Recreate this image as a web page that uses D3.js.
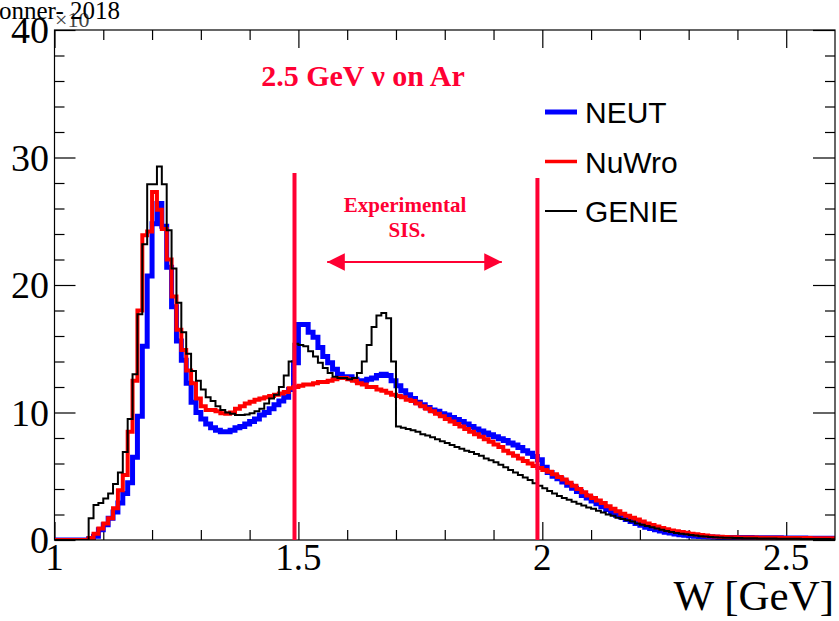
<!DOCTYPE html>
<html>
<head>
<meta charset="utf-8">
<script src="https://cdn.jsdelivr.net/npm/d3@7"></script>
<style>
  body { margin: 0; background: #fff; }
  svg { display: block; }
</style>
</head>
<body>
<div id="chart"></div>
<script>
// histogram binning: W from 1.0 GeV in 0.01 GeV bins
const binStart = 1.0;
const binWidth = 0.01;

const seriesNames = ['NEUT', 'NuWro', 'GENIE'];

const neut = [
  0, 0, 0, 0, 0, 0, 0, 0.1, 0.3, 0.8,
  1.2, 1.7, 2.2, 2.9, 3.65, 4.5, 6.5, 9.7, 15.2, 20.7,
  24.8, 26.4, 24.6, 21.4, 18.3, 15.6, 14.1, 12.3, 10.8, 10.0,
  9.5, 9.1, 8.8, 8.6, 8.5, 8.5, 8.6, 8.8, 8.9, 9.1,
  9.3, 9.5, 9.8, 10.0, 10.3, 10.6, 10.9, 11.2, 11.8, 13.9,
  16.9, 16.9, 16.3, 15.9, 15.1, 14.4, 13.9, 13.4, 13.0, 12.8,
  12.8, 12.6, 12.5, 12.5, 12.6, 12.7, 12.9, 13.0, 12.9, 12.5,
  12.1, 11.7, 11.4, 11.1, 10.8, 10.6, 10.4, 10.2, 10.1, 9.9,
  9.8, 9.6, 9.45, 9.3, 9.1, 8.9, 8.7, 8.55, 8.4, 8.25,
  8.1, 7.95, 7.8, 7.6, 7.45, 7.25, 7.0, 6.8, 6.55, 6.3,
  5.7, 5.3, 5.0, 4.8, 4.55, 4.3, 4.05, 3.8, 3.5, 3.3,
  3.05, 2.85, 2.6, 2.4, 2.15, 1.95, 1.8, 1.6, 1.45, 1.3,
  1.15, 1.0, 0.9, 0.8, 0.7, 0.6, 0.55, 0.48, 0.42, 0.38,
  0.34, 0.3, 0.27, 0.25, 0.23, 0.21, 0.2, 0.2, 0.2, 0.2,
  0.2, 0.19, 0.19, 0.18, 0.18, 0.18, 0.17, 0.1, 0.17, 0.16,
  0.16, 0.15, 0.15, 0.15, 0.14, 0.14, 0.14, 0.13, 0.13, 0.13
];

const nuwro = [
  0, 0, 0, 0, 0, 0, 0, 0.15, 0.5, 0.9,
  1.3, 1.7, 2.5, 3.9, 5.1, 8.5, 12.5, 18.0, 23.9, 24.2,
  27.3, 25.9, 24.4, 22.0, 19.1, 16.5, 14.9, 13.3, 12.3, 11.1,
  10.5, 10.2, 10.2, 10.1, 9.95, 9.9, 10.0, 10.3, 10.5, 10.7,
  10.85, 11.0, 11.1, 11.2, 11.3, 11.4, 11.5, 11.6, 11.9, 12.0,
  12.1, 12.2, 12.2, 12.3, 12.4, 12.4, 12.5, 12.6, 12.7, 12.7,
  12.6, 12.5, 12.3, 12.2, 12.0, 12.0, 11.8, 11.7, 11.55, 11.4,
  11.3, 11.2, 11.0, 10.9, 10.7, 10.5, 10.3, 10.1, 9.9, 9.7,
  9.5, 9.3, 9.1, 8.9, 8.7, 8.5, 8.3, 8.1, 7.9, 7.7,
  7.5, 7.3, 7.0, 6.8, 6.6, 6.4, 6.2, 6.0, 5.8, 5.65,
  5.5, 5.35, 5.15, 4.95, 4.75, 4.5, 4.25, 4.0, 3.75, 3.5,
  3.3, 3.1, 2.9, 2.65, 2.45, 2.25, 2.05, 1.9, 1.75, 1.6,
  1.45, 1.3, 1.17, 1.05, 0.95, 0.85, 0.75, 0.68, 0.62, 0.56,
  0.5, 0.45, 0.4, 0.35, 0.3, 0.27, 0.25, 0.23, 0.22, 0.21,
  0.2, 0.2, 0.19, 0.19, 0.18, 0.18, 0.17, 0.17, 0.17, 0.16,
  0.16, 0.16, 0.15, 0.15, 0.15, 0.14, 0.14, 0.14, 0.13, 0.13
];

const genie = [
  0, 0, 0, 0, 0, 0, 0, 1.7, 2.75, 2.9,
  3.25, 3.65, 4.4, 5.3, 6.9, 9.5, 13.0, 17.7, 23.2, 27.9,
  27.9, 29.3, 27.9, 24.3, 21.3, 18.6, 16.3, 14.6, 13.25, 12.5,
  11.8, 11.2, 10.9, 10.5, 10.2, 10.0, 9.9, 9.8, 9.8, 9.85,
  9.95, 10.1, 10.3, 10.7, 11.1, 11.4, 12.0, 12.9, 14.0, 15.4,
  15.3, 15.2, 14.8, 14.4, 13.9, 13.5, 13.1, 12.8, 12.7, 12.7,
  12.6, 12.7, 13.1, 14.0, 15.3, 16.7, 17.6, 17.8, 17.4, 14.0,
  8.9, 8.8, 8.7, 8.6, 8.5, 8.3, 8.2, 8.05, 7.9, 7.75,
  7.6, 7.45, 7.3, 7.15, 7.0, 6.9, 6.75, 6.6, 6.4, 6.25,
  6.1, 5.9, 5.7, 5.5, 5.3, 5.1, 4.9, 4.7, 4.45, 4.25,
  4.05, 3.85, 3.65, 3.45, 3.3, 3.15, 3.0, 2.85, 2.7, 2.55,
  2.45, 2.3, 2.15, 2.0, 1.9, 1.75, 1.65, 1.55, 1.45, 1.3,
  1.2, 1.1, 1.0, 0.9, 0.8, 0.7, 0.62, 0.55, 0.5, 0.45,
  0.4, 0.35, 0.3, 0.27, 0.24, 0.22, 0.2, 0.18, 0.17, 0.16,
  0.15, 0.14, 0.13, 0.13, 0.12, 0.12, 0.11, 0.11, 0.1, 0.1,
  0.1, 0.09, 0.09, 0.08, 0.08, 0.08, 0.07, 0.07, 0.07, 0.06
];

const xMajor = [1, 1.5, 2, 2.5];
const xMajorLabels = ['1', '1.5', '2', '2.5'];
const xMinor = d3.range(11, 26).map(d => d / 10).filter(d => !xMajor.includes(d));
const yMajor = [0, 10, 20, 30, 40];
const yMinor = d3.range(2, 40, 2).filter(d => d % 10 !== 0);

// SIS region markers
const sisLines = [1.492, 1.99];

(function() {
  const width = 839;
  const height = 621;
  const left = 54.5, right = 835, top = 30, bottom = 540;
  const annRed = '#ff0033';

  const svg = d3.select('#chart')
    .append('svg')
    .attr('width', width)
    .attr('height', height);

  const x = d3.scaleLinear().domain([1, 2.6]).range([left, right]);
  const y = d3.scaleLinear().domain([0, 40]).range([bottom, top]);

  svg.append('clipPath').attr('id', 'frame')
    .append('rect')
    .attr('x', left).attr('y', top - 2)
    .attr('width', right - left).attr('height', bottom - top + 2);

  // ticks (pointing inward, ROOT style)
  function ticks(axis, vals, size, transform) {
    const g = svg.append('g')
      .attr('transform', transform)
      .call(axis.tickValues(vals).tickSize(-size).tickFormat(''));
    g.select('.domain').remove();
    g.selectAll('line').attr('stroke', '#000').attr('stroke-width', 1.2);
  }
  ticks(d3.axisBottom(x), xMinor, 10, `translate(0,${bottom})`);
  ticks(d3.axisBottom(x), xMajor, 18, `translate(0,${bottom})`);
  ticks(d3.axisTop(x), xMinor, 10, `translate(0,${top})`);
  ticks(d3.axisTop(x), xMajor, 18, `translate(0,${top})`);
  ticks(d3.axisLeft(y), yMinor, 10, `translate(${left},0)`);
  ticks(d3.axisLeft(y), yMajor, 21, `translate(${left},0)`);
  ticks(d3.axisRight(y), yMinor, 10, `translate(${right},0)`);
  ticks(d3.axisRight(y), yMajor, 22, `translate(${right},0)`);

  // histograms
  const line = d3.line()
    .x(d => x(d[0]))
    .y(d => y(d[1]))
    .curve(d3.curveStepAfter);

  function steps(vals) {
    const pts = vals.map((v, i) => [binStart + i * binWidth, v]);
    pts.push([binStart + vals.length * binWidth, vals[vals.length - 1]]);
    return pts;
  }

  const hists = [
    { data: neut, color: '#0000ff', w: 5 },
    { data: nuwro, color: '#ff0000', w: 4 },
    { data: genie, color: '#000000', w: 2 }
  ];
  hists.forEach(h => {
    svg.append('path')
      .datum(steps(h.data))
      .attr('clip-path', 'url(#frame)')
      .attr('fill', 'none')
      .attr('stroke', h.color)
      .attr('stroke-width', h.w)
      .attr('d', line);
  });

  // frame
  svg.append('rect')
    .attr('x', left).attr('y', top)
    .attr('width', right - left).attr('height', bottom - top)
    .attr('fill', 'none').attr('stroke', '#000').attr('stroke-width', 1.2);

  // SIS vertical lines and arrow
  svg.selectAll('.sis')
    .data(sisLines)
    .enter().append('line')
    .attr('class', 'sis')
    .attr('x1', d => x(d)).attr('x2', d => x(d))
    .attr('y1', (d, i) => i === 0 ? 173 : 178)
    .attr('y2', bottom)
    .attr('stroke', annRed)
    .attr('stroke-width', 4);

  const defs = svg.append('defs');
  defs.append('marker')
    .attr('id', 'ah')
    .attr('viewBox', '0 0 10 10')
    .attr('refX', 10).attr('refY', 5)
    .attr('markerWidth', 8).attr('markerHeight', 8)
    .attr('markerUnits', 'strokeWidth')
    .attr('orient', 'auto-start-reverse')
    .append('path')
    .attr('d', 'M0,0 L10,5 L0,10 Z')
    .attr('fill', annRed);

  svg.append('line')
    .attr('x1', x(1.559)).attr('x2', x(1.917))
    .attr('y1', 262).attr('y2', 262)
    .attr('stroke', annRed)
    .attr('stroke-width', 2.2)
    .attr('marker-start', 'url(#ah)')
    .attr('marker-end', 'url(#ah)');

  const serif = '"Liberation Serif", "Times New Roman", serif';
  const sans = '"Liberation Sans", Arial, sans-serif';

  svg.append('text')
    .attr('x', 363).attr('y', 86)
    .attr('text-anchor', 'middle')
    .attr('font-family', serif).attr('font-weight', 'bold')
    .attr('font-size', 30).attr('fill', annRed)
    .text('2.5 GeV \u03bd on Ar');

  svg.append('text')
    .attr('x', 405).attr('y', 212)
    .attr('text-anchor', 'middle')
    .attr('font-family', serif).attr('font-weight', 'bold')
    .attr('font-size', 21).attr('fill', annRed)
    .text('Experimental');
  svg.append('text')
    .attr('x', 407).attr('y', 237)
    .attr('text-anchor', 'middle')
    .attr('font-family', serif).attr('font-weight', 'bold')
    .attr('font-size', 21).attr('fill', annRed)
    .text('SIS.');

  // legend
  const legend = svg.append('g');
  const legColors = ['#0000ff', '#ff0000', '#000000'];
  const legWidths = [5, 3.5, 2];
  seriesNames.forEach((name, i) => {
    const ly = 112 + i * 49.5;
    legend.append('line')
      .attr('x1', 545).attr('x2', 577)
      .attr('y1', ly).attr('y2', ly)
      .attr('stroke', legColors[i])
      .attr('stroke-width', legWidths[i]);
    legend.append('text')
      .attr('x', 585).attr('y', ly + 11)
      .attr('font-family', sans).attr('font-size', 30)
      .attr('fill', '#000')
      .text(name);
  });

  // axis labels
  svg.selectAll('.ylab')
    .data(yMajor)
    .enter().append('text')
    .attr('class', 'ylab')
    .attr('x', 49)
    .attr('y', d => y(d) + 13)
    .attr('text-anchor', 'end')
    .attr('font-family', serif).attr('font-size', 38)
    .text(d => d);

  svg.selectAll('.xlab')
    .data(xMajor)
    .enter().append('text')
    .attr('class', 'xlab')
    .attr('x', d => x(d))
    .attr('y', 570)
    .attr('text-anchor', 'middle')
    .attr('font-family', serif).attr('font-size', 37)
    .text((d, i) => xMajorLabels[i]);

  svg.append('text')
    .attr('x', 834).attr('y', 610)
    .attr('text-anchor', 'end')
    .attr('font-family', serif).attr('font-size', 43)
    .text('W [GeV]');

  // header fragments at top-left
  svg.append('text')
    .attr('x', 55).attr('y', 27)
    .attr('font-family', serif).attr('font-size', 22)
    .attr('fill', '#444')
    .text('\u00d710');
  svg.append('text')
    .attr('x', -1).attr('y', 19)
    .attr('font-family', serif).attr('font-size', 25)
    .text('onner- 2018');
})();
</script>
</body>
</html>
